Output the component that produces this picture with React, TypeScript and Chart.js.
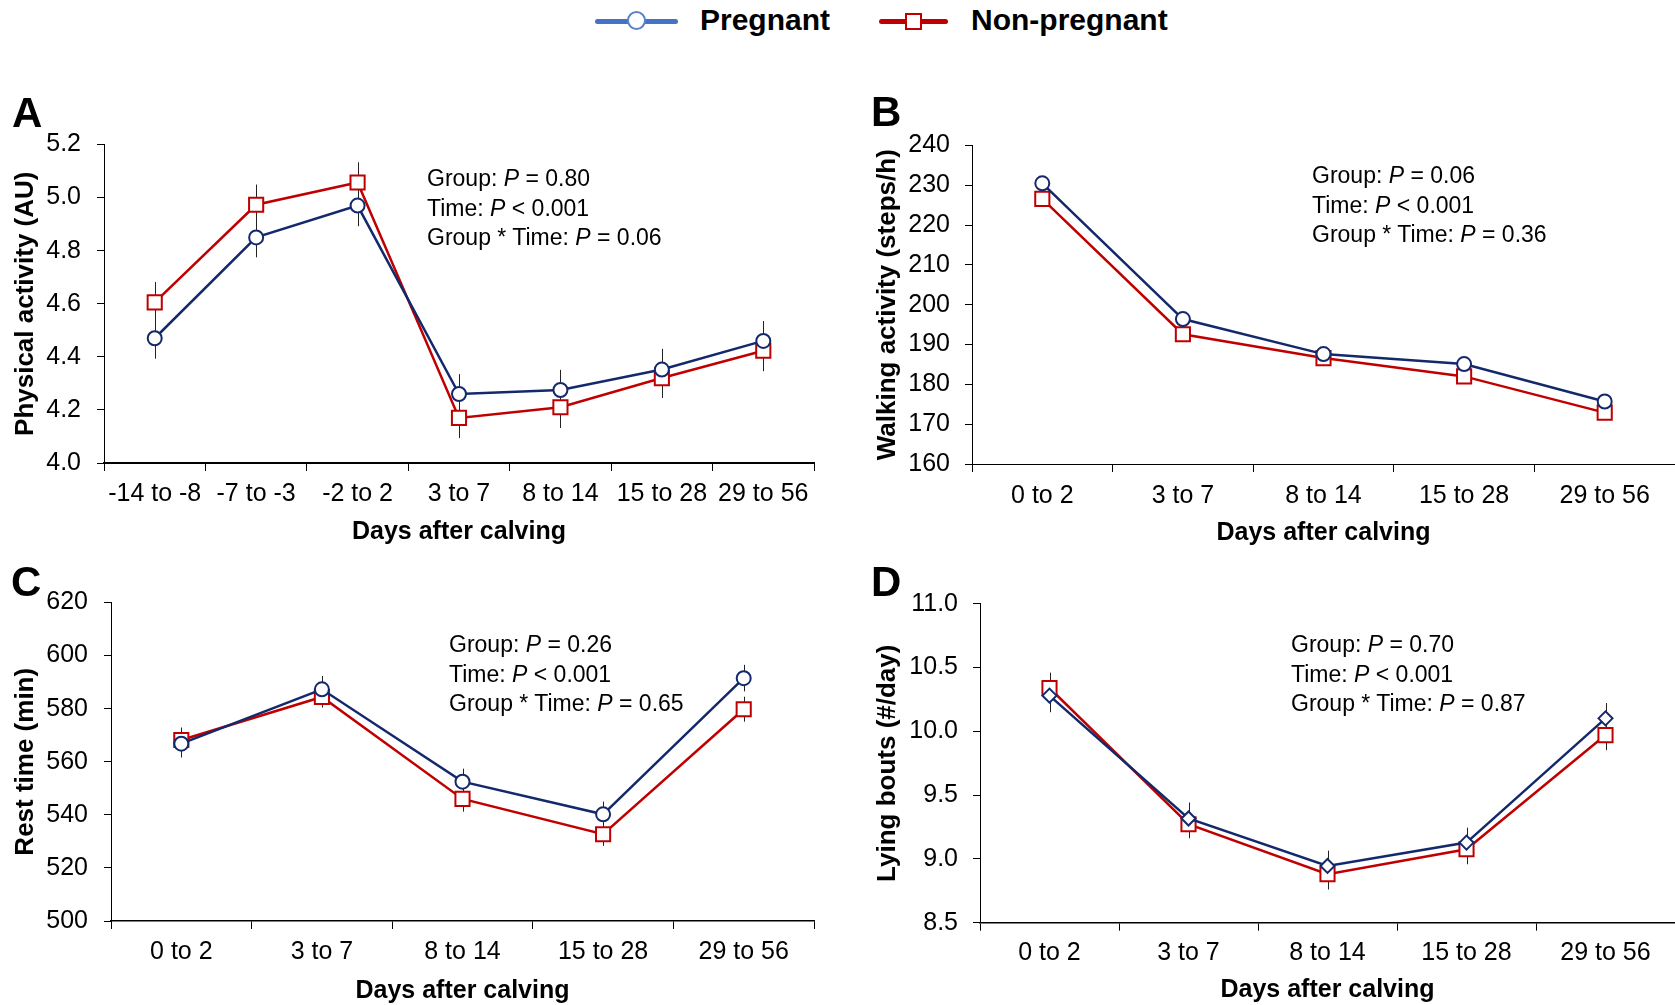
import React, { useEffect, useRef } from 'react';
import { Chart, registerables } from 'chart.js';
Chart.register(...registerables);

const FONT = '"Liberation Sans", Arial, Helvetica, sans-serif';
const NAVY = '#13296b';
const RED = '#c00000';

// ---- Panel A: Physical activity ----
const catsA = ['-14 to -8', '-7 to -3', '-2 to 2', '3 to 7', '8 to 14', '15 to 28', '29 to 56'];
const pregA = [4.47, 4.85, 4.97, 4.26, 4.275, 4.352, 4.46];
const nonA = [4.605, 4.973, 5.057, 4.17, 4.21, 4.32, 4.423];
const pregAErr = [0.077, 0.075, 0.078, 0.075, 0.076, 0.078, 0.075];
const nonAErr = [0.077, 0.076, 0.076, 0.076, 0.078, 0.075, 0.077];
const yTicksA = [4.0, 4.2, 4.4, 4.6, 4.8, 5.0, 5.2];

// ---- shared categories for B, C, D ----
const cats5 = ['0 to 2', '3 to 7', '8 to 14', '15 to 28', '29 to 56'];

// ---- Panel B: Walking activity ----
const pregB = [230.5, 196.4, 187.6, 185.1, 175.7];
const nonB = [226.6, 192.6, 186.6, 182.0, 172.9];
const yTicksB = [160, 170, 180, 190, 200, 210, 220, 230, 240];

// ---- Panel C: Rest time ----
const pregC = [566.8, 587.3, 552.5, 540.2, 591.5];
const nonC = [568.2, 584.4, 546.0, 532.7, 579.8];
const pregCErr = [5.2, 5.0, 4.9, 4.8, 5.0];
const nonCErr = [4.7, 4.0, 4.8, 4.4, 4.7];
const yTicksC = [500, 520, 540, 560, 580, 600, 620];

// ---- Panel D: Lying bouts ----
const pregD = [10.28, 9.317, 8.945, 9.128, 10.102];
const nonD = [10.34, 9.272, 8.88, 9.076, 9.971];
const pregDErr = [0.13, 0.125, 0.12, 0.117, 0.12];
const nonDErr = [0.12, 0.11, 0.12, 0.118, 0.118];
const yTicksD = [8.5, 9.0, 9.5, 10.0, 10.5, 11.0];

const statsA = ['0.80', '< 0.001', '0.06'];
const statsB = ['0.06', '< 0.001', '0.36'];
const statsC = ['0.26', '< 0.001', '0.65'];
const statsD = ['0.70', '< 0.001', '0.87'];

const errorBarsPlugin = {
  id: 'errorBarsCustom',
  beforeDatasetsDraw(chart: any) {
    const ctx = chart.ctx;
    const y = chart.scales.y;
    chart.data.datasets.forEach((ds: any, di: number) => {
      const errs = ds.errors;
      if (!errs) return;
      const meta = chart.getDatasetMeta(di);
      ctx.save();
      ctx.strokeStyle = '#222';
      ctx.lineWidth = 1;
      meta.data.forEach((pt: any, i: number) => {
        const v = ds.data[i];
        const t = y.getPixelForValue(v + errs[i]);
        const b = y.getPixelForValue(v - errs[i]);
        ctx.beginPath();
        ctx.moveTo(Math.round(pt.x) + 0.5, t);
        ctx.lineTo(Math.round(pt.x) + 0.5, b);
        ctx.stroke();
      });
      ctx.restore();
    });
  },
};

interface PanelProps {
  left: number; top: number; width: number; height: number;
  padTop: number; padRight: number; yWidth: number; xHeight: number;
  yTitle: string; yTitlePad: number; xTitlePad: number;
  xTickPad: number; yTickPad: number; xBorder: number;
  cats: string[]; preg: number[]; non: number[];
  pregErr?: number[]; nonErr?: number[];
  yTicks: number[]; decimals: number; pregStyle: string; pregRadius: number;
}

function Panel(p: PanelProps) {
  const ref = useRef<HTMLCanvasElement>(null);
  useEffect(() => {
    if (!ref.current) return;
    const chart = new Chart(ref.current, {
      type: 'line',
      data: {
        labels: p.cats,
        datasets: [
          {
            label: 'Pregnant',
            data: p.preg,
            errors: p.pregErr,
            borderColor: NAVY,
            borderWidth: 2.5,
            pointStyle: p.pregStyle,
            pointRadius: p.pregRadius,
            pointBorderWidth: 2,
            pointBorderColor: NAVY,
            pointBackgroundColor: '#fff',
            tension: 0,
            clip: false,
          } as any,
          {
            label: 'Non-pregnant',
            data: p.non,
            errors: p.nonErr,
            borderColor: RED,
            borderWidth: 2.5,
            pointStyle: 'rect',
            pointRadius: 10,
            pointBorderWidth: 2,
            pointBorderColor: RED,
            pointBackgroundColor: '#fff',
            tension: 0,
            clip: false,
          } as any,
        ],
      },
      options: {
        animation: false,
        responsive: false,
        maintainAspectRatio: false,
        devicePixelRatio: 1,
        layout: { autoPadding: false, padding: { top: p.padTop, right: p.padRight, left: 0, bottom: 0 } },
        plugins: { legend: { display: false }, tooltip: { enabled: false } },
        scales: {
          x: {
            type: 'category',
            offset: true,
            grid: { offset: true, drawOnChartArea: false, drawTicks: true, tickLength: 8, color: '#000', tickWidth: 1 },
            border: { display: true, color: '#000', width: p.xBorder },
            ticks: {
              autoSkip: false, maxRotation: 0, minRotation: 0, padding: p.xTickPad,
              color: '#000', font: { family: FONT, size: 25 },
            },
            title: {
              display: true, text: 'Days after calving', color: '#000',
              font: { family: FONT, size: 25, weight: 'bold', lineHeight: 1 },
              padding: { top: 0, bottom: p.xTitlePad },
            },
            afterFit: (s: any) => { s.height = p.xHeight; },
          },
          y: {
            type: 'linear',
            min: p.yTicks[0],
            max: p.yTicks[p.yTicks.length - 1],
            grid: { drawOnChartArea: false, drawTicks: true, tickLength: 7, color: '#000', tickWidth: 1 },
            border: { display: true, color: '#000', width: 1 },
            afterBuildTicks: (s: any) => { s.ticks = p.yTicks.map((v) => ({ value: v })); },
            ticks: {
              padding: p.yTickPad, color: '#000', font: { family: FONT, size: 25 },
              callback: (v: any) => Number(v).toFixed(p.decimals),
            },
            title: {
              display: true, text: p.yTitle, color: '#000',
              font: { family: FONT, size: 26, weight: 'bold' },
              padding: { top: p.yTitlePad, bottom: 0 },
            },
            afterFit: (s: any) => { s.width = p.yWidth; },
          },
        },
      } as any,
      plugins: [errorBarsPlugin],
    });
    return () => chart.destroy();
  }, []);
  return (
    <canvas
      ref={ref}
      width={p.width}
      height={p.height}
      style={{ position: 'absolute', left: p.left, top: p.top, width: p.width, height: p.height }}
    />
  );
}

function Stats({ left, top, vals }: { left: number; top: number; vals: string[] }) {
  const rows = [
    ['Group: ', vals[0]],
    ['Time: ', vals[1]],
    ['Group * Time: ', vals[2]],
  ];
  return (
    <div style={{ position: 'absolute', left, top, font: `23px ${FONT}`, lineHeight: '29.5px', color: '#000', whiteSpace: 'pre', zIndex: 2 }}>
      {rows.map((r, i) => {
        const v = r[1].startsWith('<') ? r[1] : '= ' + r[1];
        return (
          <div key={i}>{r[0]}<i>P</i>{' ' + v}</div>
        );
      })}
    </div>
  );
}

function Letter({ left, top, ch }: { left: number; top: number; ch: string }) {
  return (
    <div style={{ position: 'absolute', left, top, font: `bold 42px ${FONT}`, lineHeight: '42px', color: '#000', zIndex: 2 }}>{ch}</div>
  );
}

export default function App() {
  return (
    <div style={{ position: 'fixed', left: 0, top: 0, width: 1675, height: 1005, overflow: 'hidden', background: '#fff' }}>
      {/* Legend */}
      <div style={{ position: 'absolute', left: 595, top: 18.5, width: 83, height: 5, background: '#4472c4', borderRadius: 2.5 }} />
      <div style={{ position: 'absolute', left: 627, top: 11, width: 19, height: 19, boxSizing: 'border-box', borderRadius: '50%', border: '2px solid #5b82c9', background: '#fff' }} />
      <div style={{ position: 'absolute', left: 700, top: 5, font: `bold 30px ${FONT}`, lineHeight: '30px', color: '#000' }}>Pregnant</div>
      <div style={{ position: 'absolute', left: 879, top: 18.5, width: 69, height: 5, background: RED, borderRadius: 2.5 }} />
      <div style={{ position: 'absolute', left: 905, top: 12.5, width: 17, height: 17, boxSizing: 'border-box', border: `2px solid ${RED}`, background: '#fff' }} />
      <div style={{ position: 'absolute', left: 971, top: 5, font: `bold 30px ${FONT}`, lineHeight: '30px', color: '#000' }}>Non-pregnant</div>

      <Panel left={0} top={80} width={835} height={473} padTop={64.5} padRight={21} yWidth={104} xHeight={90}
        yTitle="Physical activity (AU)" yTitlePad={10} xTitlePad={8.5} xTickPad={8.5} yTickPad={16} xBorder={2}
        cats={catsA} preg={pregA} non={nonA} pregErr={pregAErr} nonErr={nonAErr} yTicks={yTicksA} decimals={1}
        pregStyle="circle" pregRadius={7} />
      <Panel left={860} top={80} width={815} height={474} padTop={65.5} padRight={0} yWidth={112} xHeight={90}
        yTitle="Walking activity (steps/h)" yTitlePad={12} xTitlePad={8.4} xTickPad={9.5} yTickPad={15} xBorder={1}
        cats={cats5} preg={pregB} non={nonB} yTicks={yTicksB} decimals={0}
        pregStyle="circle" pregRadius={7} />
      <Panel left={0} top={540} width={835} height={466} padTop={62.5} padRight={21} yWidth={111} xHeight={85}
        yTitle="Rest time (min)" yTitlePad={10} xTitlePad={2.8} xTickPad={8.5} yTickPad={16} xBorder={1.5}
        cats={cats5} preg={pregC} non={nonC} pregErr={pregCErr} nonErr={nonCErr} yTicks={yTicksC} decimals={0}
        pregStyle="circle" pregRadius={7} />
      <Panel left={860} top={540} width={815} height={466} padTop={63.8} padRight={0} yWidth={120} xHeight={83.3}
        yTitle="Lying bouts (#/day)" yTitlePad={12} xTitlePad={3} xTickPad={7.5} yTickPad={15} xBorder={1.5}
        cats={cats5} preg={pregD} non={nonD} pregErr={pregDErr} nonErr={nonDErr} yTicks={yTicksD} decimals={1}
        pregStyle="rectRot" pregRadius={7} />

      <Stats left={427} top={164} vals={statsA} />
      <Stats left={1312} top={161} vals={statsB} />
      <Stats left={449} top={630} vals={statsC} />
      <Stats left={1291} top={630} vals={statsD} />

      <Letter left={12} top={91.5} ch="A" />
      <Letter left={871} top={91} ch="B" />
      <Letter left={11} top={561} ch="C" />
      <Letter left={871} top={561} ch="D" />
    </div>
  );
}
